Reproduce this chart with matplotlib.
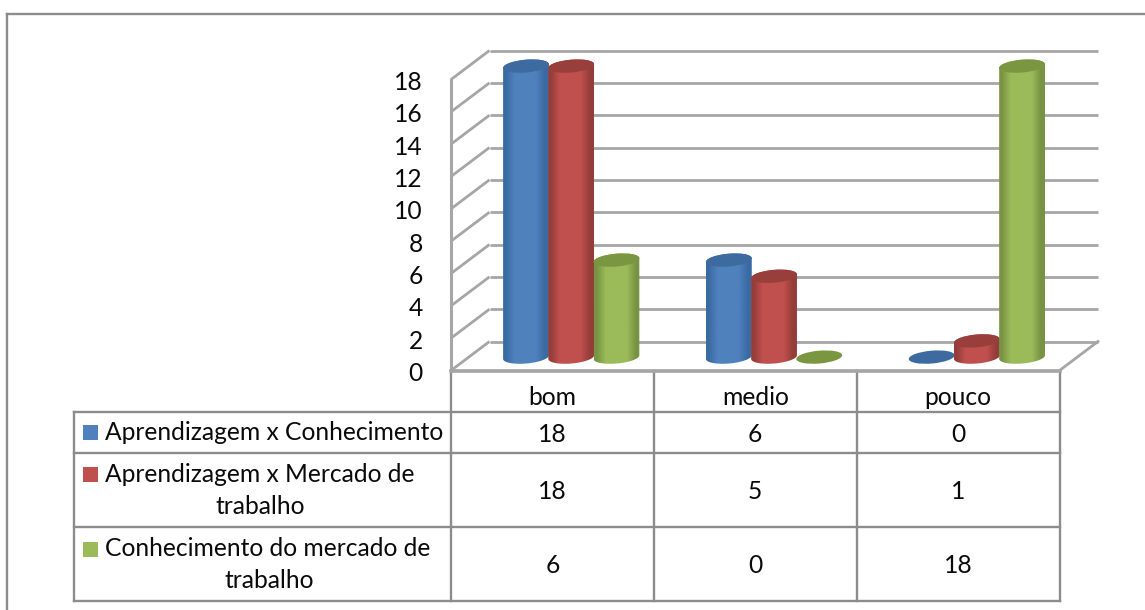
import numpy as np
import matplotlib
matplotlib.use("Agg")
import matplotlib.pyplot as plt
from matplotlib.colors import LinearSegmentedColormap
from matplotlib.patches import Ellipse, PathPatch, Rectangle
from matplotlib.path import Path
from matplotlib.transforms import IdentityTransform, Affine2D

categories = ["bom", "medio", "pouco"]
series_names = ["Aprendizagem x Conhecimento",
                "Aprendizagem x Mercado de\ntrabalho",
                "Conhecimento do mercado de\ntrabalho"]
aprendizagem_conhecimento = [18, 6, 0]
aprendizagem_mercado = [18, 5, 1]
conhecimento_mercado = [6, 0, 18]
series_values = [aprendizagem_conhecimento, aprendizagem_mercado, conhecimento_mercado]
y_ticks = [0, 2, 4, 6, 8, 10, 12, 14, 16, 18]
main_colors = ["#4F81BD", "#C0504D", "#9BBB59"]
dark_colors = ["#3A6AA2", "#943D3A", "#779343"]
top_colors = ["#3D6A9F", "#983F3C", "#7A9640"]

W, H = 1145, 610
plt.rcParams["font.family"] = ["Lato", "DejaVu Sans"]
fig = plt.figure(figsize=(W / 100, H / 100), dpi=100, facecolor="white")

# pixel overlay for layout
ov = fig.add_axes([0, 0, 1, 1], zorder=0)
ov.set_xlim(0, W); ov.set_ylim(H, 0); ov.axis("off")

# value axes: front plane of the 3D box
L, R, T, B = 451, 1059.5, 79.5, 370.5
ax = fig.add_axes([L / W, 1 - B / H, (R - L) / W, (B - T) / H], zorder=1)
ax.set_xlim(-0.5, 2.5); ax.set_ylim(0, 18)
ax.patch.set_visible(False)
ax.set_autoscale_on(False)
for s in ax.spines.values():
    s.set_visible(False)
ax.set_xticks([]); ax.set_yticks(y_ticks)
ax.tick_params(axis="y", length=0, pad=24, labelsize=17.7, labelcolor="#0a0a0a")
for tick in ax.yaxis.get_major_ticks():
    tick.label1.set_transform(tick.label1.get_transform() + Affine2D().translate(5, -1))

GRID = "#a6a6a6"
DX, DY = 38.5, 29  # depth in px (display, y up)
back = ax.transData + Affine2D().translate(DX, DY)
for v in y_ticks:
    ax.plot([-0.5, 2.5], [v, v], color=GRID, lw=2, transform=back, clip_on=False, zorder=1, solid_capstyle="butt")
    p0 = ax.transData.transform((-0.5, v))
    ov.plot([p0[0], p0[0] + DX], [H - p0[1], H - p0[1] - DY], color=GRID, lw=2, solid_capstyle="butt")
# bottom right floor edge
pr = ax.transData.transform((2.5, 0))
ov.plot([pr[0], pr[0] + DX], [H - pr[1], H - pr[1] - DY], color=GRID, lw=2)
ax.plot([-0.5, 2.5], [0, 0], color=GRID, lw=2.6, clip_on=False, zorder=1)
ax.plot([-0.5, -0.5], [0, 18], color=GRID, lw=2.2, clip_on=False, zorder=1)

# cylinders
shade_pos = [0, .05, .25, .5, .72, .92, 1]
RX, RY, TILT = 23, 6.4, 5
MIDX, MIDY = 18.8, 13.4
t = np.radians(TILT)
bar_off = [-45.2, 0, 45.2]

def ell_pts(cx, cy, a0, a1, n=40):
    th = np.radians(np.linspace(a0, a1, n))
    x = RX * np.cos(th); y = RY * np.sin(th)
    return np.c_[cx + x * np.cos(t) - y * np.sin(t), cy + x * np.sin(t) + y * np.cos(t)]

for si, vals in enumerate(series_values):
    c, d, top = main_colors[si], dark_colors[si], top_colors[si]
    cmap = LinearSegmentedColormap.from_list("c", list(zip(shade_pos, [d, d, c, c, c, d, d])))
    for ci, v in enumerate(vals):
        base = ax.transData.transform((ci, 0)) + [MIDX + bar_off[si], MIDY]
        head = ax.transData.transform((ci, v)) + [MIDX + bar_off[si], MIDY]
        z = 3 + ci + si * 0.1
        if v > 0:
            low = ell_pts(base[0], base[1], 180, 360)
            up = ell_pts(head[0], head[1], 0, 180)
            verts = np.r_[low, up, low[:1]]
            path = Path(verts)
            inv = ax.transData.inverted()
            x0, y0 = inv.transform((verts[:, 0].min(), verts[:, 1].min()))
            x1, y1 = inv.transform((verts[:, 0].max(), verts[:, 1].max()))
            im = ax.imshow(np.linspace(0, 1, 64)[None, :], cmap=cmap, extent=[x0, x1, y0, y1],
                           aspect="auto", zorder=z, interpolation="bilinear")
            im.set_clip_box(fig.bbox)
            im.set_clip_path(PathPatch(path, transform=IdentityTransform()))
        ax.add_patch(Ellipse(tuple(head), 2 * RX, 2 * RY, angle=TILT, transform=IdentityTransform(),
                             fc=top, ec="none", zorder=z + 0.05, clip_on=False))

# table and frame
LINE = "#8c8c8c"
xs = [ax.transData.transform((p, 0))[0] for p in (-0.5, 0.5, 1.5, 2.5)]
rows = [412, 453, 527, 601]
TL = 74
for y in rows:
    ov.plot([TL, xs[-1]], [y, y], color=LINE, lw=1.7, solid_capstyle="projecting")
ov.plot([xs[0], xs[-1]], [371, 371], color=LINE, lw=1.7)
for x in xs:
    ov.plot([x, x], [371, 601], color=LINE, lw=1.7, solid_capstyle="projecting")
ov.plot([TL, TL], [412, 601], color=LINE, lw=1.7, solid_capstyle="projecting")
ov.plot([6.5, 6.5], [610, 14], color=LINE, lw=1.7)
ov.plot([6.5, 1145], [14, 14], color=LINE, lw=1.7)

FS = 17.7
TC = "#0a0a0a"
centers = [(xs[i] + xs[i + 1]) / 2 for i in range(3)]
for i, cat in enumerate(categories):
    ov.text(centers[i], 397.5, cat, ha="center", va="center", fontsize=FS, color=TC)
row_mid = [(rows[i] + rows[i + 1]) / 2 for i in range(3)]
for si, name in enumerate(series_names):
    for ci in range(3):
        ov.text(centers[ci], row_mid[si] + 1.5, str(series_values[si][ci]), ha="center", va="center",
                fontsize=FS, color=TC)
    sy = [432, 474, 549][si]
    ov.add_patch(Rectangle((83, sy - 7.5), 15, 15, fc=main_colors[si], ec="none"))
    lines = name.split("\n")
    ov.text(105, [433, 475, 549][si], lines[0], ha="left", va="center", fontsize=FS, color=TC)
    if len(lines) > 1:
        cx = [None, 260.5, 269][si]
        ov.text(cx, [None, 507, 581][si], lines[1], ha="center", va="center", fontsize=FS, color=TC)

fig.savefig("out.png", dpi=100, facecolor="white")
